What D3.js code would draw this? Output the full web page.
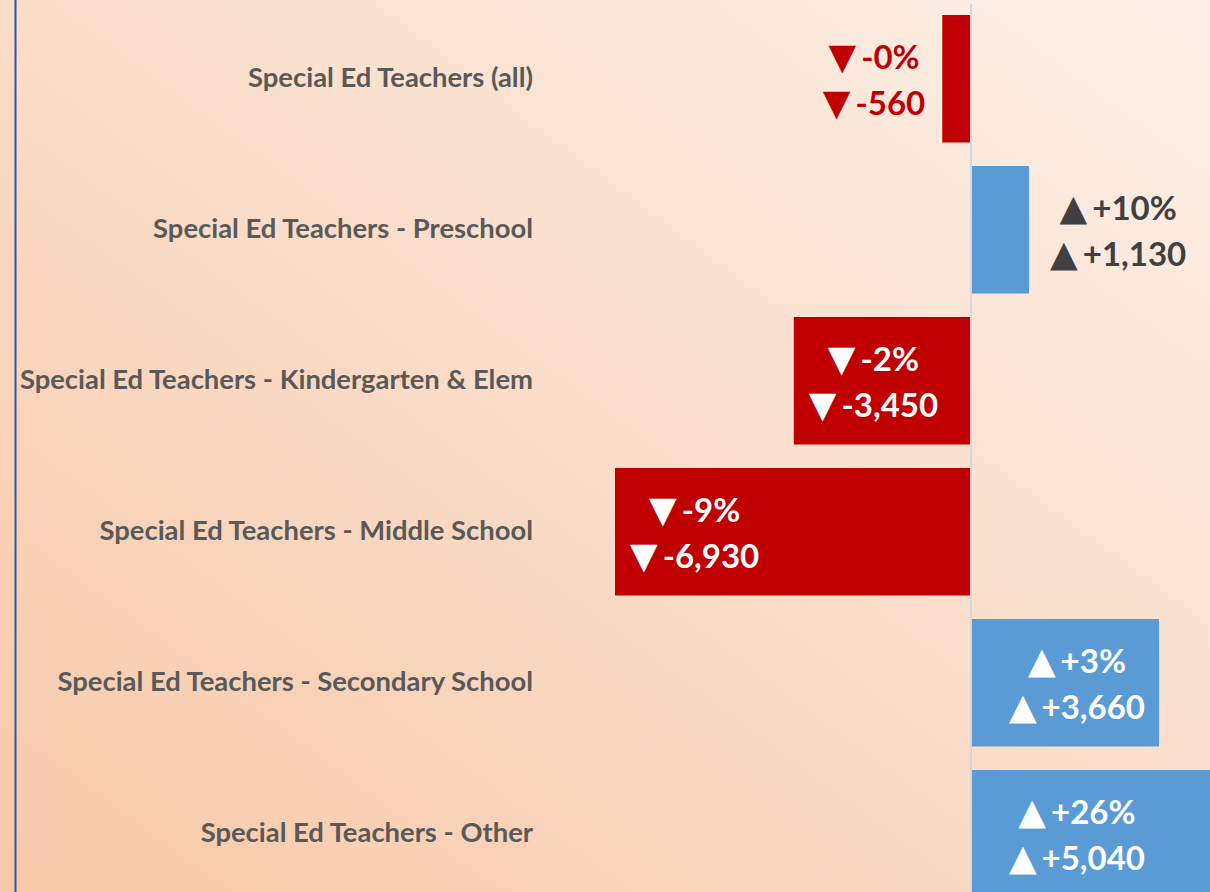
<!DOCTYPE html>
<html lang="en">
<head>
<meta charset="utf-8">
<title>Special Ed Teachers - change</title>
<script src="https://d3js.org/d3.v7.min.js"></script>
<style>
  body { margin: 0; overflow: hidden; }
  .cat text { font-family: Lato, "Open Sans", sans-serif; font-weight: bold; fill: #595959; font-size: 27.4px; }
  .val text { font-family: Lato, "Open Sans", sans-serif; font-weight: bold; font-size: 33px; }
  .val .tri { font-family: "DejaVu Sans", sans-serif; font-size: 36px; font-weight: normal; }
</style>
</head>
<body>
<svg width="1210" height="892"></svg>
<script>

var categories = [
  "Special Ed Teachers (all)",
  "Special Ed Teachers - Preschool",
  "Special Ed Teachers - Kindergarten & Elem",
  "Special Ed Teachers - Middle School",
  "Special Ed Teachers - Secondary School",
  "Special Ed Teachers - Other"
];
var changes = [-560, 1130, -3450, -6930, 3660, 5040];
var pctLabels = ["-0%", "+10%", "-2%", "-9%", "+3%", "+26%"];

var svg = d3.select("svg"),
    width = +svg.attr("width"),
    height = +svg.attr("height");

var red = "#c00000", blue = "#5b9bd5";
var fmt = d3.formatLocale({decimal: ".", thousands: ",", grouping: [3], currency: ["$", ""], minus: "-"}).format("+,");

// background
var defs = svg.append("defs");
var grad = defs.append("linearGradient")
    .attr("id", "bg")
    .attr("x1", 0).attr("y1", 1).attr("x2", 1).attr("y2", 0);
grad.append("stop").attr("offset", "0%").attr("stop-color", "#f7c9a9");
grad.append("stop").attr("offset", "100%").attr("stop-color", "#fdf0e8");
svg.append("rect").attr("width", width).attr("height", height).attr("fill", "url(#bg)");

svg.append("line")
    .attr("x1", 15.5).attr("x2", 15.5).attr("y1", 0).attr("y2", height)
    .attr("stroke", "#2f55a5").attr("stroke-width", 2);

var x = d3.scaleLinear().domain([-7000, 5000]).range([611.4, 1227.9]);
var y = d3.scaleBand().domain(categories).range([15, 897.5]).paddingInner(0.1556).paddingOuter(0);

var rows = categories.map(function(c, i) {
  return {cat: c, v: changes[i], pct: pctLabels[i]};
});

// bars
svg.append("g").selectAll("rect")
  .data(rows)
  .enter().append("rect")
    .attr("x", function(d) { return Math.min(x(0), x(d.v)); })
    .attr("y", function(d) { return y(d.cat); })
    .attr("width", function(d) { return Math.abs(x(d.v) - x(0)); })
    .attr("height", y.bandwidth())
    .attr("fill", function(d) { return d.v < 0 ? red : blue; });

// zero line
svg.append("line")
    .attr("x1", x(0)).attr("x2", x(0)).attr("y1", 4).attr("y2", height)
    .attr("stroke", "#d3d8de").attr("stroke-width", 2);

// category labels
svg.append("g").attr("class", "cat").selectAll("text")
  .data(rows)
  .enter().append("text")
    .attr("x", 533)
    .attr("y", function(d) { return y(d.cat) + y.bandwidth() / 2 + 8; })
    .attr("text-anchor", "end")
    .text(function(d) { return d.cat; });

// value labels
var safeRight = 1158;
var vg = svg.append("g").attr("class", "val");
rows.forEach(function(d) {
  var g = vg.append("g");
  var cy = y(d.cat) + y.bandwidth() / 2;
  var tri = d.v < 0 ? "\u25BC" : "\u25B2";
  var lines = [d.pct, fmt(d.v)];
  var texts = lines.map(function(s, j) {
    var t = g.append("text")
        .attr("y", cy + (j === 0 ? -10 : 36))
        .attr("text-anchor", "middle");
    t.append("tspan").attr("class", "tri").text(tri);
    t.append("tspan").attr("dx", 5).text(s);
    return t;
  });
  var lw = d3.max(texts, function(t) { return t.node().getComputedTextLength(); }) + 5;
  var bw = Math.abs(x(d.v) - x(0));
  var inside = bw > lw + 24;
  var cx, col;
  if (inside) {
    col = "#ffffff";
    cx = d.v < 0 ? x(d.v) + 15 + lw / 2 : Math.min(x(d.v), safeRight) - 13 - lw / 2;
  } else {
    col = d.v < 0 ? red : "#404040";
    cx = d.v < 0 ? x(d.v) - 17 - lw / 2 : x(d.v) + 21 + lw / 2;
  }
  texts.forEach(function(t) { t.attr("x", cx).attr("fill", col); });
});

</script>
</body>
</html>
